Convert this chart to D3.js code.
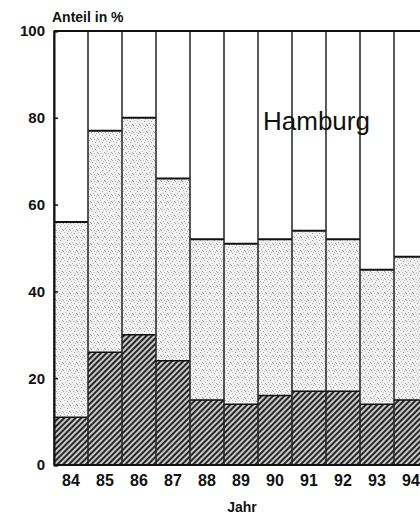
<!DOCTYPE html>
<html><head><meta charset="utf-8">
<script src="https://cdn.jsdelivr.net/npm/d3@7"></script>
<style>body{margin:0;background:#fff;overflow:hidden}svg{display:block}</style>
</head><body>
<svg id="c" width="420" height="515"></svg>
<script>
const years = ["84","85","86","87","88","89","90","91","92","93","94"];
const dark = [11,26,30,24,15,14,16,17,17,14,15];
const stippled = [45,51,50,42,37,37,36,37,35,31,33];
const yTicks = [0,20,40,60,80,100];

const svg = d3.select("#c");
const defs = svg.append("defs");
const hatch = defs.append("pattern").attr("id","hatch").attr("patternUnits","userSpaceOnUse")
  .attr("width",4).attr("height",4).attr("patternTransform","rotate(45)");
hatch.append("rect").attr("width",4).attr("height",4).attr("fill","#c8c8c8");
hatch.append("rect").attr("width",2).attr("height",4).attr("fill","#262626");

const stip = defs.append("pattern").attr("id","stip").attr("patternUnits","userSpaceOnUse")
  .attr("width",7).attr("height",7);
stip.append("rect").attr("width",7).attr("height",7).attr("fill","#f2f2f2");
[[1,1],[4,2],[2,4],[6,5],[5,0],[0,6],[3,6]].forEach(([x,y],i)=>{
  stip.append("rect").attr("x",x).attr("y",y).attr("width",1).attr("height",1)
    .attr("fill", i%2? "#a0a0a0":"#bdbdbd");
});

const FONT = "Liberation Sans, Arial, Helvetica, sans-serif";
const x = d3.scaleBand().domain(years).range([54, 54+34*years.length]).padding(0);
const y = d3.scaleLinear().domain([0,100]).range([465,31]);

const g = svg.append("g");
years.forEach((yr,i)=>{
  const x0 = x(yr), w = x.bandwidth();
  const top = dark[i]+stippled[i];
  g.append("rect").attr("x",x0).attr("y",y(100)).attr("width",w).attr("height",y(top)-y(100)).attr("fill","#fff");
  g.append("rect").attr("x",x0).attr("y",y(top)).attr("width",w).attr("height",y(dark[i])-y(top)).attr("fill","url(#stip)");
  g.append("rect").attr("x",x0).attr("y",y(dark[i])).attr("width",w).attr("height",y(0)-y(dark[i])).attr("fill","url(#hatch)");
  g.append("line").attr("x1",x0).attr("x2",x0+w).attr("y1",y(top)).attr("y2",y(top)).attr("stroke","#111").attr("stroke-width",2);
  g.append("line").attr("x1",x0).attr("x2",x0+w).attr("y1",y(dark[i])).attr("y2",y(dark[i])).attr("stroke","#111").attr("stroke-width",1.5);
});
years.forEach((yr)=>{
  const xx = x(yr);
  g.append("line").attr("x1",xx).attr("x2",xx).attr("y1",y(100)).attr("y2",y(0))
    .attr("stroke","#222").attr("stroke-width",1.5);
});
g.append("line").attr("x1",x.range()[0]).attr("x2",x.range()[1]).attr("y1",y(100)).attr("y2",y(100)).attr("stroke","#111").attr("stroke-width",2);
g.append("line").attr("x1",x.range()[0]).attr("x2",x.range()[1]).attr("y1",y(0)).attr("y2",y(0)).attr("stroke","#111").attr("stroke-width",2);

const ya = svg.append("g").attr("transform","translate(54,0)")
  .call(d3.axisLeft(y).tickValues(yTicks).tickSize(-4).tickPadding(9).tickFormat(d3.format("d")));
ya.select(".domain").attr("stroke","#111").attr("stroke-width",2);
ya.selectAll(".tick line").attr("stroke","#111").attr("stroke-width",1.5);
ya.selectAll("text").attr("font-family",FONT).attr("font-size",15).attr("font-weight","bold").attr("fill","#111");

const xa = svg.append("g").attr("transform","translate(0,465)")
  .call(d3.axisBottom(x).tickSize(0).tickPadding(10));
xa.select(".domain").remove();
xa.selectAll("text").attr("font-family",FONT).attr("font-size",16).attr("font-weight","bold").attr("fill","#111");

svg.append("text").attr("x",52).attr("y",22).text("Anteil in %")
  .attr("font-family",FONT).attr("font-size",14).attr("font-weight","bold").attr("fill","#111");
svg.append("text").attr("x",242).attr("y",512).attr("text-anchor","middle").text("Jahr")
  .attr("font-family",FONT).attr("font-size",14).attr("font-weight","bold").attr("fill","#111");
svg.append("text").attr("x",263).attr("y",130).text("Hamburg")
  .attr("font-family",FONT).attr("font-size",26).attr("fill","#111");
</script>
</body></html>
